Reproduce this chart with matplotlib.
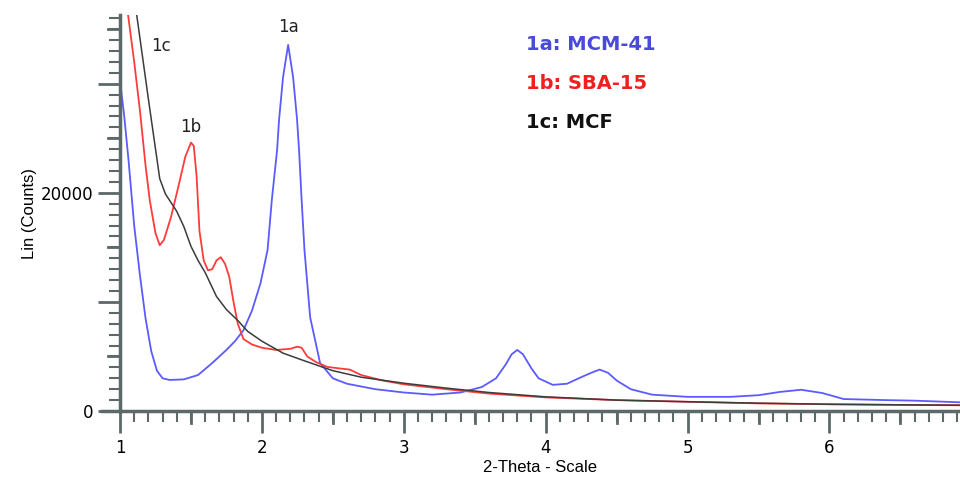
import matplotlib
matplotlib.use('Agg')
import matplotlib.pyplot as plt
from matplotlib.ticker import MultipleLocator, FixedLocator

# 1a: MCM-41 (blue)
x_a = [1.00, 1.03, 1.06, 1.10, 1.14, 1.18, 1.22, 1.26, 1.30, 1.35, 1.45, 1.55, 1.65, 1.75,
       1.81, 1.87, 1.93, 1.99, 2.04, 2.07, 2.107, 2.121, 2.149, 2.185, 2.22, 2.248, 2.262,
       2.28, 2.30, 2.34, 2.41, 2.50, 2.60, 2.80, 3.00, 3.20, 3.40, 3.55, 3.65, 3.72, 3.76,
       3.80, 3.84, 3.90, 3.95, 4.05, 4.15, 4.25, 4.32, 4.38, 4.44, 4.50, 4.60, 4.75, 5.00,
       5.30, 5.50, 5.65, 5.80, 5.95, 6.10, 6.40, 6.60, 6.92]
y_a = [30300, 27000, 23000, 17000, 12500, 8500, 5500, 3700, 3000, 2850, 2900, 3300, 4400, 5600,
       6400, 7400, 9200, 11700, 14760, 19350, 23900, 26700, 30600, 33560, 30600, 26700, 23900,
       19350, 14760, 8600, 4400, 3000, 2500, 2000, 1700, 1500, 1700, 2200, 3000, 4300, 5200,
       5600, 5200, 3900, 3000, 2400, 2500, 3100, 3500, 3800, 3500, 2800, 2000, 1500, 1300,
       1300, 1450, 1750, 1950, 1650, 1100, 1000, 950, 800]

# 1b: SBA-15 (red)
x_b = [1.05, 1.10, 1.14, 1.18, 1.21, 1.25, 1.28, 1.31, 1.36, 1.41, 1.46, 1.50, 1.52, 1.54,
       1.56, 1.59, 1.62, 1.65, 1.68, 1.71, 1.74, 1.77, 1.80, 1.83, 1.87, 1.93, 2.00, 2.10,
       2.20, 2.25, 2.28, 2.32, 2.38, 2.46, 2.55, 2.62, 2.70, 2.85, 3.00, 3.30, 3.60, 4.00,
       4.50, 5.00, 5.50, 6.00, 6.50, 6.92]
y_b = [37000, 32000, 27600, 22500, 19300, 16300, 15200, 15700, 17800, 20500, 23300, 24600, 24300, 21500,
       16500, 13800, 12900, 13000, 13800, 14100, 13500, 12300, 10000, 8000, 6600, 6100, 5800, 5600,
       5700, 5900, 5800, 5000, 4500, 4050, 3900, 3800, 3300, 2800, 2450, 2000, 1600, 1250,
       1000, 850, 700, 620, 560, 530]

# 1c: MCF (black)
x_c = [1.105, 1.20, 1.28, 1.32, 1.40, 1.45, 1.50, 1.55, 1.60, 1.68, 1.75, 1.83, 1.90, 2.00,
       2.15, 2.30, 2.50, 2.70, 3.00, 3.30, 3.60, 4.00, 4.50, 5.00, 5.50, 6.00, 6.50, 6.92]
y_c = [37500, 28600, 21300, 19900, 18300, 16900, 15100, 13800, 12700, 10500, 9300, 8300, 7300, 6400,
       5300, 4600, 3700, 3100, 2550, 2100, 1700, 1300, 1000, 850, 720, 620, 570, 530]

fig = plt.figure(figsize=(9.6, 4.83), dpi=100)
ax = fig.add_axes([0.125, 0.149, 0.875, 0.82])

ax.plot(x_a, y_a, color='#5b5bff', lw=1.3)
ax.plot(x_b, y_b, color='#ff3b3b', lw=1.3)
ax.plot(x_c, y_c, color='#3c3c3c', lw=1.1)

ax.set_xlim(1, 6.92)
ax.set_ylim(0, 36300)

for s in ['top', 'right']:
    ax.spines[s].set_visible(False)
gc = '#5d6868'
for s in ['left', 'bottom']:
    ax.spines[s].set_color(gc)
    ax.spines[s].set_linewidth(2.5)
# bottom axis line runs a bit left of the y axis
ax.plot([-0.021, 0], [0, 0], transform=ax.transAxes, color=gc, lw=2.5, clip_on=False)

ax.xaxis.set_major_locator(MultipleLocator(1))
ax.xaxis.set_minor_locator(MultipleLocator(0.1))
ax.yaxis.set_major_locator(FixedLocator([0, 10000, 20000, 30000]))
ax.yaxis.set_minor_locator(MultipleLocator(1000))
ax.tick_params(axis='both', which='major', length=16, width=2, color=gc, labelsize=12)
ax.tick_params(axis='x', which='major', pad=4)
ax.tick_params(axis='y', which='major', pad=3)
ax.tick_params(axis='both', which='minor', length=8, width=1.5, color=gc)
ax.set_yticklabels(['0', '', '20000', ''])

# medium ticks at the half steps
for xm in [1.5, 2.5, 3.5, 4.5, 5.5, 6.5]:
    ax.plot([xm, xm], [0, -0.03], transform=ax.get_xaxis_transform(), color=gc, lw=2, clip_on=False)
for ym in [5000, 15000, 25000, 35000]:
    ax.plot([-0.0145, 0], [ym, ym], transform=ax.get_yaxis_transform(), color=gc, lw=2, clip_on=False)

ax.set_xlabel('2-Theta - Scale', fontsize=12, family='Liberation Sans', labelpad=2)
ax.set_ylabel('Lin (Counts)', fontsize=12, family='Liberation Sans')
ax.yaxis.set_label_coords(-0.099, 0.5)

ax.text(2.19, 34400, '1a', fontsize=12, ha='center', va='bottom', color='#222222')
ax.text(1.50, 25200, '1b', fontsize=12, ha='center', va='bottom', color='#222222')
ax.text(1.29, 32600, '1c', fontsize=12, ha='center', va='bottom', color='#222222')

ax.text(3.86, 33600, '1a: MCM-41', fontsize=14, fontweight='bold', color='#4a4ad8', va='center')
ax.text(3.86, 30000, '1b: SBA-15', fontsize=14, fontweight='bold', color='#f02020', va='center')
ax.text(3.86, 26400, '1c: MCF', fontsize=14, fontweight='bold', color='#111111', va='center')

plt.savefig('out.png', dpi=100)
